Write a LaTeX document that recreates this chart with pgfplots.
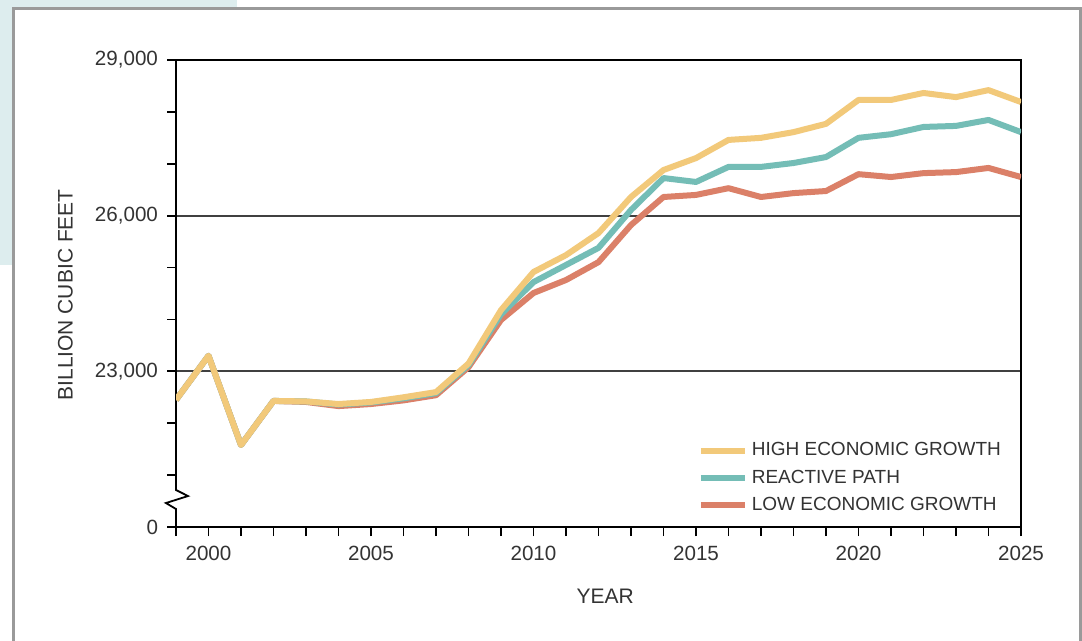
\documentclass[border=0pt]{standalone}
\usepackage{pgfplots}
\usepackage{pgfplotstable}
\pgfplotsset{compat=1.18}
\usepackage{fontspec}
\setmainfont{Liberation Sans}

\definecolor{highc}{HTML}{F2C97A}
\definecolor{reacc}{HTML}{74BDB6}
\definecolor{lowc}{HTML}{DB8068}
\definecolor{txt}{HTML}{333333}
\definecolor{paleblue}{HTML}{DDEDEE}
\definecolor{frame}{HTML}{9A9A9A}

% gas demand projections, billion cubic feet (0 on the axis stands for 20,000)
\pgfplotstableread{
year high  reactive low
1999 22450 22450 22450
2000 23300 23300 23300
2001 21580 21580 21580
2002 22430 22430 22430
2003 22420 22420 22410
2004 22370 22360 22330
2005 22410 22400 22370
2006 22500 22480 22440
2007 22600 22580 22540
2008 23150 23120 23080
2009 24180 24100 23990
2010 24915 24720 24510
2011 25240 25050 24760
2012 25665 25380 25105
2013 26360 26110 25820
2014 26880 26725 26360
2015 27110 26650 26400
2016 27460 26940 26530
2017 27500 26940 26360
2018 27610 27015 26435
2019 27770 27130 26475
2020 28230 27500 26800
2021 28230 27570 26745
2022 28365 27710 26820
2023 28285 27730 26840
2024 28420 27845 26920
2025 28190 27610 26745
}\gasdata

\begin{document}
\begin{tikzpicture}
% page and outer frame
\useasboundingbox (0,0) rectangle (541bp,320.5bp);
\fill[white] (0,0) rectangle (541bp,320.5bp);
\fill[paleblue] (0,317bp) rectangle (118.5bp,320.5bp);
\fill[paleblue] (0,188bp) rectangle (6bp,320.5bp);
\draw[frame, line width=1.2bp] (6.75bp,-1bp) -- (6.75bp,316.25bp) -- (540.25bp,316.25bp) -- (540.25bp,-1bp);

\begin{axis}[
    at={(88bp,57bp)}, anchor=south west,
    scale only axis,
    width=422.5bp, height=233.5bp,
    xmin=1999, xmax=2025,
    ymin=20000, ymax=29000,
    scaled y ticks=false,
    xtick={2000,2005,2010,2015,2020,2025},
    xticklabels={2000,2005,2010,2015,2020,2025},
    minor xtick={1999,...,2025},
    ytick={20000,23000,26000,29000},
    yticklabels={0,{23,000},{26,000},{29,000}},
    minor ytick={21000,22000,24000,25000,27000,28000},
    tick align=outside,
    xtick pos=bottom, ytick pos=left,
    major tick length=4.5bp, minor tick length=4.5bp,
    tick style={black, line width=0.9bp},
    axis line style={black, line width=1.3bp},
    ymajorgrids,
    major grid style={black!75, line width=0.9bp},
    ticklabel style={font=\fontsize{10.3bp}{12bp}\selectfont, text=txt},
    xticklabel style={yshift=-1.5bp},
    yticklabel style={xshift=-1bp},
    xlabel={YEAR},
    ylabel={BILLION CUBIC FEET},
    label style={font=\fontsize{10.5bp}{12bp}\selectfont, text=txt},
    xlabel style={at={(axis description cs:0.508,-0.148)}, anchor=center},
    ylabel style={at={(axis description cs:-0.131,0.497)}, anchor=center},
    legend style={at={(axis description cs:0.9885,0.199)}, anchor=north east,
        draw=none, fill=none, font=\fontsize{9.5bp}{11bp}\selectfont, text=txt,
        row sep=1.6bp, legend cell align=left},
    legend image code/.code={\draw[#1, line width=3bp] (0bp,0bp) -- (22bp,0bp);},
    reverse legend,
    every axis plot/.append style={line width=3bp, line join=round},
]
\addplot[lowc] table[x=year, y=low] {\gasdata};
\addlegendentry{LOW ECONOMIC GROWTH}
\addplot[reacc] table[x=year, y=reactive] {\gasdata};
\addlegendentry{REACTIVE PATH}
\addplot[highc] table[x=year, y=high] {\gasdata};
\addlegendentry{HIGH ECONOMIC GROWTH}

\coordinate (b0) at (axis cs:1999,20760);
\coordinate (b1) at (axis cs:1999,20300);
\coordinate (z1) at (axis cs:1999,20713);
\coordinate (z2) at (axis cs:1999.37,20597);
\coordinate (z3) at (axis cs:1998.69,20462);
\coordinate (z4) at (axis cs:1999,20347);
\end{axis}
% axis break
\fill[white] ([xshift=-1.5bp]b0) rectangle ([xshift=1.5bp]b1);
\draw[black, line width=0.9bp] (b0) -- (z1) -- (z2) -- (z3) -- (z4) -- (b1);
\end{tikzpicture}
\end{document}
